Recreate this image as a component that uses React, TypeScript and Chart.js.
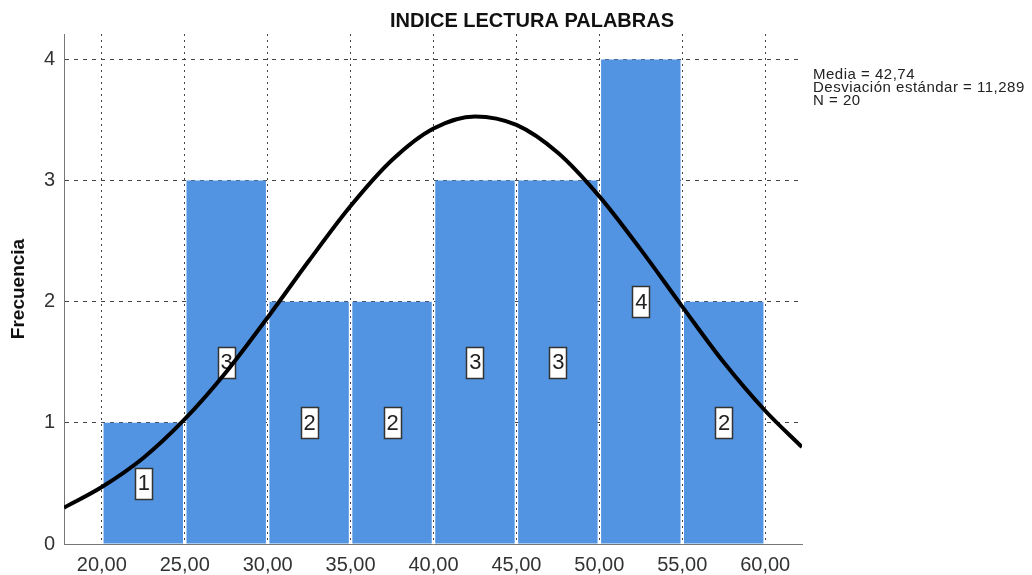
import React, { useEffect, useRef } from "react";
import { Chart, registerables } from "chart.js";

Chart.register(...registerables);

// Histogram bins (centres of 5-unit classes) and frequencies
const binCenters = [22.5, 27.5, 32.5, 37.5, 42.5, 47.5, 52.5, 57.5];
const frequencies = [1, 3, 2, 2, 3, 3, 4, 2];

// Normal curve
const curveX = [17.72, 20, 22.5, 25, 27.5, 30, 32.5, 35, 37.5, 40, 42.5, 45, 47.5, 50, 52.5, 55, 57.5, 60, 62.22];
const curveY = [0.3, 0.47, 0.71, 1.03, 1.42, 1.87, 2.34, 2.79, 3.17, 3.43, 3.53, 3.46, 3.23, 2.87, 2.43, 1.96, 1.5, 1.1, 0.8];

const xTicks = [20, 25, 30, 35, 40, 45, 50, 55, 60];
const yTicks = [0, 1, 2, 3, 4];

const titleText = "INDICE LECTURA PALABRAS";
const yTitle = "Frecuencia";
const statsLines = ["Media = 42,74", "Desviación estándar = 11,289", "N = 20"];

const FONT = "'Liberation Sans', Arial, sans-serif";

const fmtX = (v: number) => v.toFixed(2).replace(".", ",");

export default function App() {
  const ref = useRef<HTMLCanvasElement | null>(null);

  useEffect(() => {
    if (!ref.current) return;

    const barLabels = {
      id: "barLabels",
      afterDatasetDraw(chart: any, args: any) {
        if (args.index !== 1) return;
        const ctx = chart.ctx;
        const meta = chart.getDatasetMeta(1);
        const ys = chart.scales.y;
        ctx.save();
        meta.data.forEach((el: any, i: number) => {
          const v = frequencies[i];
          const cx = el.x;
          const cy = ys.getPixelForValue(v / 2);
          const w = 17;
          const h = 31;
          ctx.fillStyle = "#ffffff";
          ctx.strokeStyle = "#333333";
          ctx.lineWidth = 1.5;
          ctx.beginPath();
          ctx.rect(Math.round(cx - w / 2) + 0.5, Math.round(cy - h / 2) + 0.5, w, h);
          ctx.fill();
          ctx.stroke();
          ctx.fillStyle = "#222222";
          ctx.font = `22px ${FONT}`;
          ctx.textAlign = "center";
          ctx.textBaseline = "middle";
          ctx.fillText(String(v), cx + 0.5, cy + 1);
        });
        ctx.restore();
      },
    };

    const texts = {
      id: "texts",
      afterDraw(chart: any) {
        const ctx = chart.ctx;
        ctx.save();
        ctx.fillStyle = "#111111";
        ctx.font = `bold 20px ${FONT}`;
        ctx.textAlign = "center";
        ctx.textBaseline = "alphabetic";
        ctx.fillText(titleText, 532, 27);
        ctx.font = `15px ${FONT}`;
        try {
          (ctx as any).letterSpacing = "0.5px";
        } catch (e) {}
        ctx.textAlign = "left";
        ctx.fillStyle = "#222222";
        statsLines.forEach((s, i) => {
          ctx.fillText(s, 813, 79 + i * 13.2);
        });
        ctx.restore();
      },
    };

    const chart = new Chart(ref.current, {
      type: "bar",
      data: {
        datasets: [
          {
            type: "line",
            data: curveX.map((x, i) => ({ x, y: curveY[i] })),
            borderColor: "#000000",
            borderWidth: 4,
            pointRadius: 0,
            fill: false,
            cubicInterpolationMode: "monotone",
            order: 0,
          } as any,
          {
            type: "bar",
            data: binCenters.map((x, i) => ({ x, y: frequencies[i] })),
            backgroundColor: "#5294e2",
            barPercentage: 0.958,
            categoryPercentage: 1,
            order: 1,
          } as any,
        ],
      },
      plugins: [barLabels, texts],
      options: {
        responsive: false,
        animation: false,
        layout: { padding: { top: 34, right: 230, bottom: 0, left: 0 } },
        plugins: {
          legend: { display: false },
          tooltip: { enabled: false },
          title: { display: false },
        },
        scales: {
          x: {
            type: "linear",
            min: 17.72,
            max: 62.22,
            offset: false,
            afterFit: (s: any) => {
              s.height = 31;
            },
            afterBuildTicks: (s: any) => {
              s.ticks = xTicks.map((v) => ({ value: v }));
            },
            ticks: {
              callback: (v: any) => fmtX(Number(v)),
              font: { family: FONT, size: 20 },
              color: "#333333",
              padding: 9,
              maxRotation: 0,
              autoSkip: false,
            },
            grid: {
              offset: false,
              color: "#444444",
              lineWidth: 1,
              drawTicks: false,
            },
            border: { display: true, color: "#777777", width: 1, dash: [2, 4] },
          },
          y: {
            type: "linear",
            min: 0,
            max: 4.21,
            afterFit: (s: any) => {
              s.width = 64;
            },
            afterBuildTicks: (s: any) => {
              s.ticks = yTicks.map((v) => ({ value: v }));
            },
            ticks: {
              font: { family: FONT, size: 20 },
              color: "#333333",
              padding: 9,
            },
            grid: {
              color: (c: any) => (c.tick && c.tick.value === 0 ? "rgba(0,0,0,0)" : "#444444"),
              lineWidth: 1,
              drawTicks: false,
            },
            border: { display: true, color: "#777777", width: 1, dash: [4, 5] },
            title: {
              display: true,
              text: yTitle,
              font: { family: FONT, size: 19, weight: "bold" },
              color: "#111111",
              padding: { top: 7, bottom: 0 },
            },
          },
        },
      } as any,
    });

    return () => chart.destroy();
  }, []);

  return (
    <div style={{ position: "fixed", left: 0, top: 0, width: 1032, height: 575, background: "#ffffff" }}>
      <canvas ref={ref} width={1032} height={575} style={{ display: "block" }} />
    </div>
  );
}
